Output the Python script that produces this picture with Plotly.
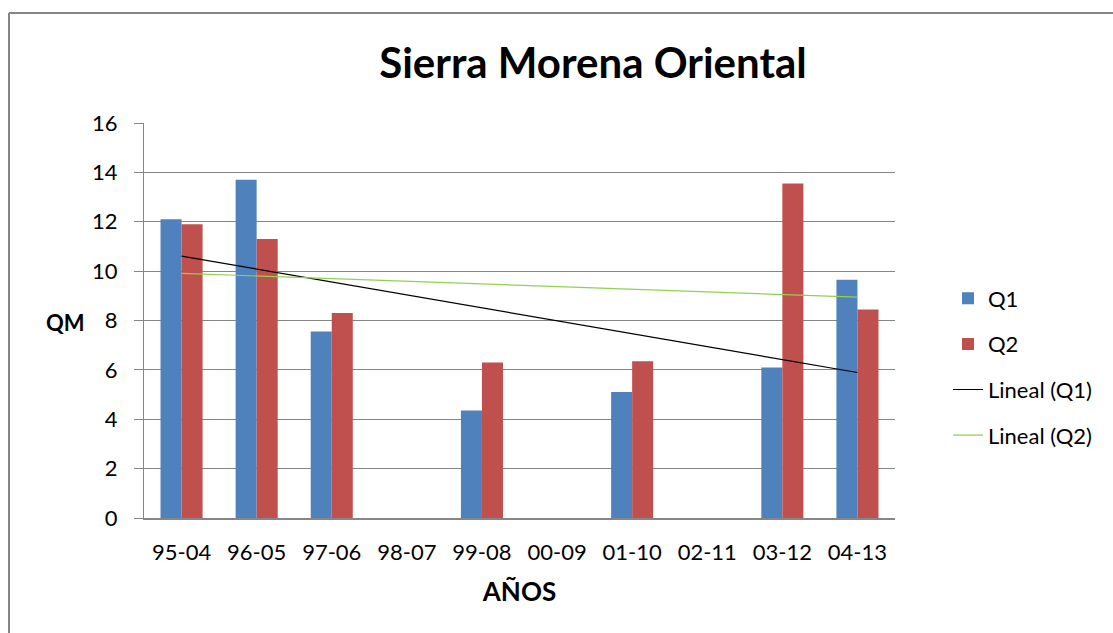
import numpy as np
import plotly.graph_objects as go

# datos del grafico
anios = ["95-04", "96-05", "97-06", "98-07", "99-08", "00-09", "01-10", "02-11", "03-12", "04-13"]
q1 = [12.1, 13.7, 7.55, None, 4.35, None, 5.1, None, 6.1, 9.65]
q2 = [11.9, 11.3, 8.3, None, 6.3, None, 6.35, None, 13.55, 8.45]

AZUL = "#4F81BD"
ROJO = "#C0504D"
GRIS = "#868686"
FUENTE = "Lato"


def tendencia(valores):
    # recta de minimos cuadrados como la "Lineal" de Excel (ignora huecos)
    idx = [i + 1 for i, v in enumerate(valores) if v is not None]
    ys = [v for v in valores if v is not None]
    m, b = np.polyfit(idx, ys, 1)
    return [m * (i + 1) + b for i in range(len(valores))]


fig = go.Figure()

fig.add_trace(go.Bar(x=anios, y=q1, name="Q1", marker_color=AZUL,
                     marker_line_width=0, legendgroup="a"))
fig.add_trace(go.Bar(x=anios, y=q2, name="Q2", marker_color=ROJO,
                     marker_line_width=0, legendgroup="b"))
fig.add_trace(go.Scatter(x=anios, y=tendencia(q1), name="Lineal (Q1)", mode="lines",
                         line=dict(color="black", width=1.2), legendgroup="c"))
fig.add_trace(go.Scatter(x=anios, y=tendencia(q2), name="Lineal (Q2)", mode="lines",
                         line=dict(color="#92D050", width=1.2), legendgroup="d"))

# marco exterior del grafico (solo se ven el borde izquierdo y el superior)
W, H = 1113, 633
L, R, T, B = 144, 218, 123, 115
pw, ph = W - L - R, H - T - B


def px(x):
    return (x - L) / pw


def py(y):
    return (H - B - y) / ph


fig.add_shape(type="line", xref="paper", yref="paper",
              x0=px(9), x1=px(1200), y0=py(13), y1=py(13),
              line=dict(color=GRIS, width=2))
fig.add_shape(type="line", xref="paper", yref="paper",
              x0=px(9), x1=px(9), y0=py(13), y1=py(700),
              line=dict(color=GRIS, width=2))

fig.add_annotation(text="<b>QM</b>", xref="paper", yref="paper",
                   x=px(65), y=py(322), xanchor="center", yanchor="middle",
                   showarrow=False, font=dict(family=FUENTE, size=22, color="black"))

fig.update_layout(
    width=W, height=H,
    margin=dict(l=L, r=R, t=T, b=B),
    paper_bgcolor="white", plot_bgcolor="white",
    font=dict(family=FUENTE, size=22, color="black"),
    title=dict(text="<b>Sierra Morena Oriental</b>", x=593 / W, xanchor="center",
               y=1 - 63 / H, yanchor="middle",
               font=dict(family=FUENTE, size=42, color="black")),
    barmode="group", bargap=0.44, bargroupgap=0,
    showlegend=True,
    legend=dict(x=px(948), xanchor="left", y=py(367), yanchor="middle",
                tracegroupgap=14, font=dict(size=22), bgcolor="rgba(0,0,0,0)"),
    xaxis=dict(type="category", title=dict(text="<b>AÑOS</b>", standoff=18),
               showline=True, linecolor=GRIS, linewidth=2,
               ticks="", ticklabelstandoff=14, showgrid=False),
    yaxis=dict(range=[0, 16], dtick=2, showgrid=True, gridcolor=GRIS, gridwidth=1,
               showline=True, linecolor=GRIS, linewidth=1,
               ticks="outside", ticklen=9, tickcolor=GRIS,
               ticklabelstandoff=12, zeroline=False),
)

# sin el margen por defecto del body, para que la figura empiece en (0, 0)
fig.write_html("out.html", config={"displayModeBar": False},
               post_script="document.body.style.margin='0';")
